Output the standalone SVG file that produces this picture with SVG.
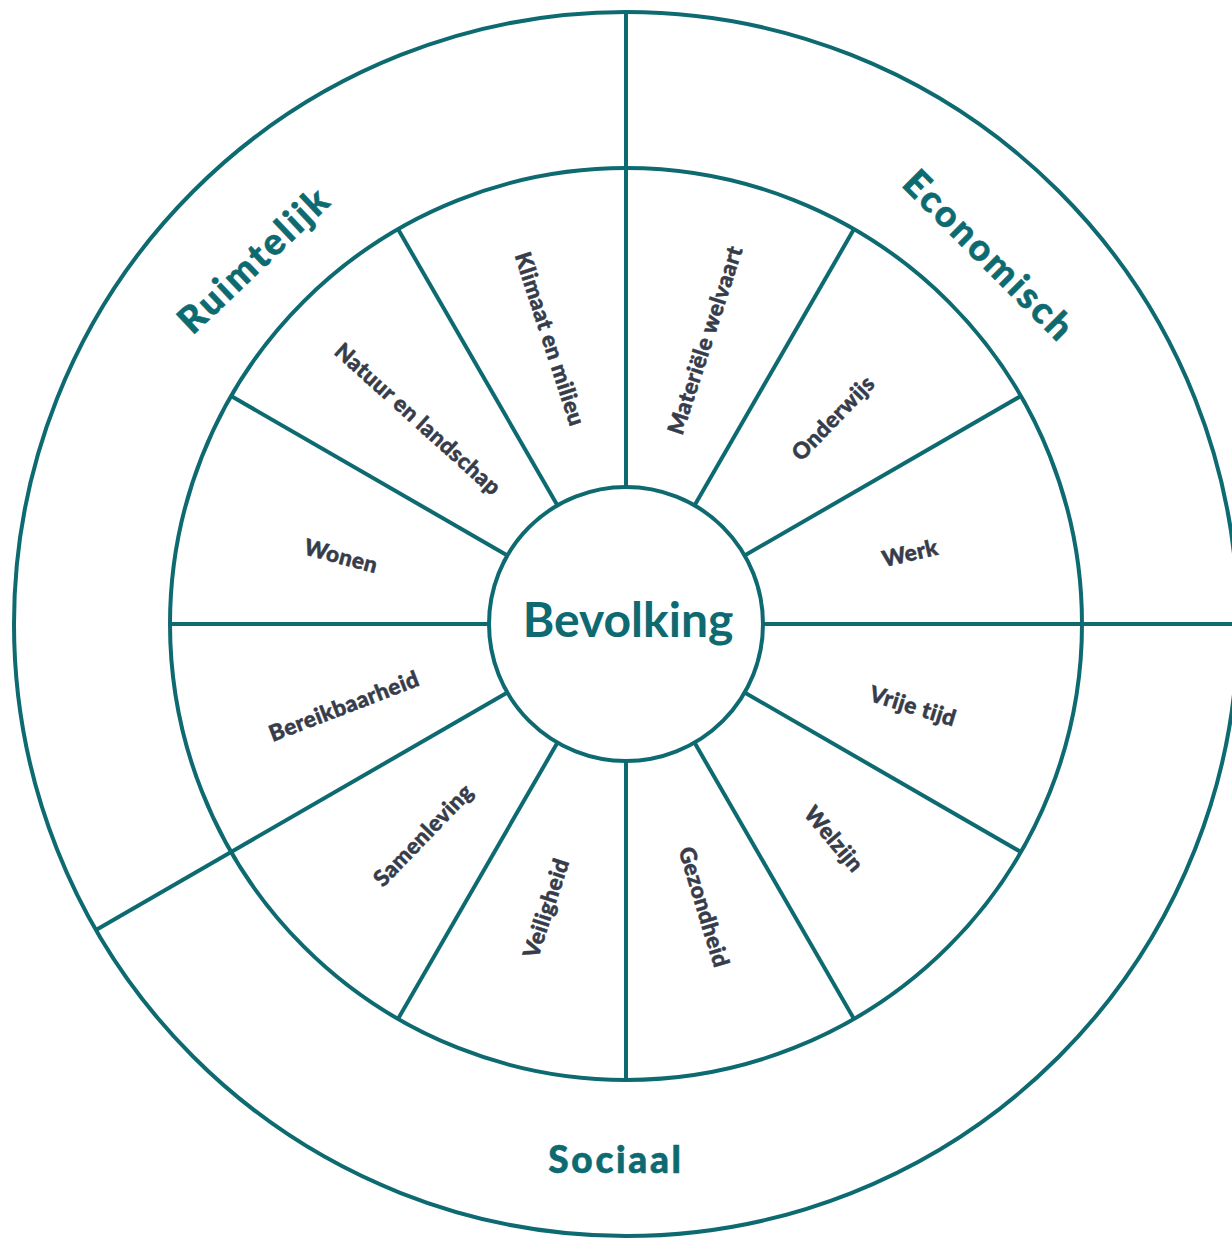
<svg xmlns="http://www.w3.org/2000/svg" width="1232" height="1238" viewBox="0 0 1232 1238">
<style>
.ln{stroke:#0e6a71;stroke-width:4;fill:none;stroke-linecap:butt}
.seg{font-family:Lato,"Liberation Sans",sans-serif;font-weight:900;font-size:22.5px;fill:#363c4a;stroke:#363c4a;stroke-width:0.5px;text-anchor:middle;letter-spacing:0.4px}
.cat{font-family:Lato,"Liberation Sans",sans-serif;font-weight:900;font-size:37px;fill:#0e6a71;stroke:#0e6a71;stroke-width:0.6px;text-anchor:middle;letter-spacing:2.7px}
.core{font-family:Lato,"Liberation Sans",sans-serif;font-weight:700;font-size:48px;fill:#0e6a71;text-anchor:middle}
</style>
<rect width="1232" height="1238" fill="#ffffff"/>
<g id="connectors" class="ln">
<circle cx="626" cy="624" r="612"/>
<circle cx="626" cy="624" r="456"/>
<line x1="626" y1="12" x2="626" y2="168"/>
<line x1="1082" y1="624" x2="1240" y2="624"/>
<line x1="231.1" y1="852" x2="96" y2="930"/>
<line x1="626" y1="487" x2="626" y2="168"/>
<line x1="694.5" y1="505.4" x2="854" y2="229.1"/>
<line x1="744.6" y1="555.5" x2="1020.9" y2="396"/>
<line x1="763" y1="624" x2="1082" y2="624"/>
<line x1="744.6" y1="692.5" x2="1020.9" y2="852"/>
<line x1="694.5" y1="742.6" x2="854" y2="1018.9"/>
<line x1="626" y1="761" x2="626" y2="1080"/>
<line x1="557.5" y1="742.6" x2="398" y2="1018.9"/>
<line x1="507.4" y1="692.5" x2="231.1" y2="852"/>
<line x1="489" y1="624" x2="170" y2="624"/>
<line x1="507.4" y1="555.5" x2="231.1" y2="396"/>
<line x1="557.5" y1="505.4" x2="398" y2="229.1"/>
</g>
<g id="bevolking">
<circle cx="626" cy="624" r="137" fill="#ffffff" stroke="#0e6a71" stroke-width="4"/>
<text class="core" x="628" y="637">Bevolking</text>
</g>
<g id="cat-ruimtelijk"><text class="cat" transform="translate(263,269) rotate(-43.5)">Ruimtelijk</text></g>
<g id="cat-economisch"><text class="cat" transform="translate(980,265) rotate(45)">Economisch</text></g>
<g id="cat-sociaal"><text class="cat" x="616" y="1173">Sociaal</text></g>
<g id="seg-materiele-welvaart"><text class="seg" transform="translate(705,340) rotate(-72)" dy="8">Materiële welvaart</text></g>
<g id="seg-onderwijs"><text class="seg" transform="translate(833,418) rotate(-46)" dy="8">Onderwijs</text></g>
<g id="seg-werk"><text class="seg" transform="translate(910,553) rotate(-13)" dy="8">Werk</text></g>
<g id="seg-vrije-tijd"><text class="seg" transform="translate(913,706) rotate(17)" dy="8">Vrije tijd</text></g>
<g id="seg-welzijn"><text class="seg" transform="translate(834,839) rotate(50)" dy="8">Welzijn</text></g>
<g id="seg-gezondheid"><text class="seg" transform="translate(704,907) rotate(73)" dy="8">Gezondheid</text></g>
<g id="seg-veiligheid"><text class="seg" transform="translate(546,908) rotate(-72)" dy="8">Veiligheid</text></g>
<g id="seg-samenleving"><text class="seg" transform="translate(423,835) rotate(-46)" dy="8">Samenleving</text></g>
<g id="seg-bereikbaarheid"><text class="seg" transform="translate(344,706) rotate(-21)" dy="8">Bereikbaarheid</text></g>
<g id="seg-wonen"><text class="seg" transform="translate(341,556) rotate(15)" dy="8">Wonen</text></g>
<g id="seg-natuur-en-landschap"><text class="seg" transform="translate(418,419) rotate(42)" dy="8">Natuur en landschap</text></g>
<g id="seg-klimaat-en-milieu"><text class="seg" transform="translate(550,339) rotate(72)" dy="8">Klimaat en milieu</text></g>
</svg>
